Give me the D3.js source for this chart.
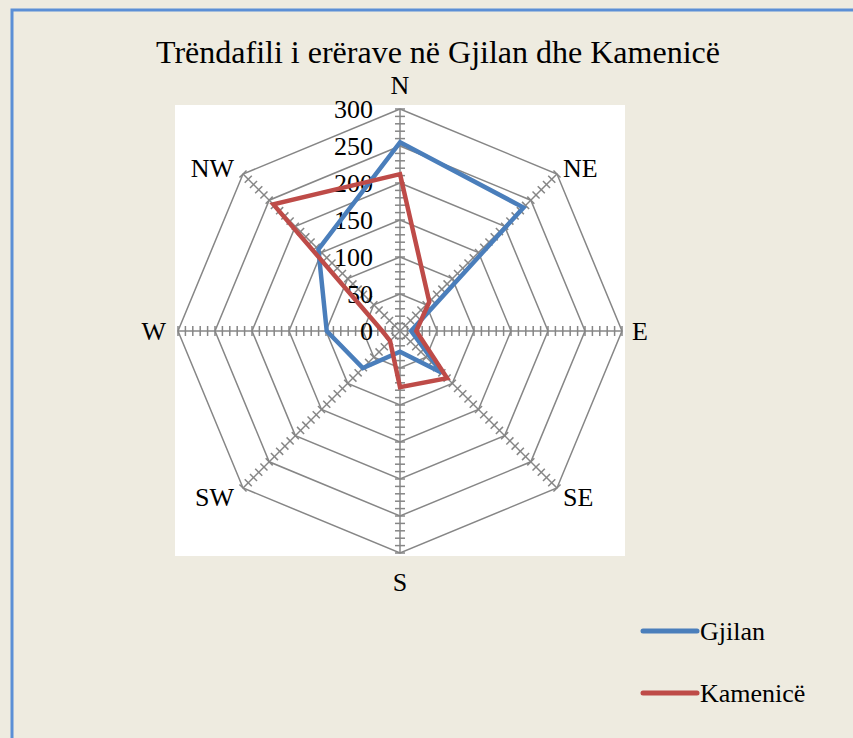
<!DOCTYPE html>
<html>
<head>
<meta charset="utf-8">
<script src="https://cdn.jsdelivr.net/npm/d3@7"></script>
<style>
body { margin: 0; background: #eeebe0; }
svg { display: block; font-family: "Liberation Serif", "Times New Roman", serif; }
</style>
</head>
<body>
<div id="chart"></div>
<script>
var width = 853, height = 738;

// data
var directions = ["N", "NE", "E", "SE", "S", "SW", "W", "NW"];
var gjilan = [255, 236, 15, 80, 28, 71, 99, 156];
var kamenice = [212, 56, 22, 90, 76, 19, 24, 242];
var gridValues = [50, 100, 150, 200, 250, 300];
var tickLabels = [0, 50, 100, 150, 200, 250, 300];
var seriesNames = ["Gjilan", "Kamenicë"];
var seriesColors = ["#4a7ebb", "#be4b48"];

var cx = 400, cy = 331;
var r = d3.scaleLinear().domain([0, 300]).range([0, 222]);
var angle = d3.scalePoint().domain(directions).range([0, 2 * Math.PI * 7 / 8]);

function pt(dir, v) {
    var a = angle(dir);
    return [cx + r(v) * Math.sin(a), cy - r(v) * Math.cos(a)];
}

var svg = d3.select("#chart").append("svg").attr("width", width).attr("height", height);

svg.append("rect").attr("width", width).attr("height", height).attr("fill", "#eeebe0");
// outer frame
svg.append("rect").attr("x", 12).attr("y", 10).attr("width", 900).attr("height", 800)
    .attr("fill", "none").attr("stroke", "#5b8fd6").attr("stroke-width", 3);

// plot area
svg.append("rect").attr("x", 175).attr("y", 105).attr("width", 450).attr("height", 451).attr("fill", "#fff");

svg.append("text").attr("x", 438).attr("y", 63).attr("text-anchor", "middle")
    .style("font-size", "32px").text("Trëndafili i erërave në Gjilan dhe Kamenicë");

var grid = svg.append("g");
var line = d3.line();

// octagons
gridValues.forEach(function(v) {
    var pts = directions.map(function(d) { return pt(d, v); });
    pts.push(pts[0]);
    grid.append("path").attr("d", line(pts)).attr("fill", "none")
        .attr("stroke", "#868686").attr("stroke-width", 1.5);
});

// spokes with minor ticks every 10
var minor = d3.range(10, 301, 10);
directions.forEach(function(d) {
    grid.append("path").attr("d", line([pt(d, 0), pt(d, 300)]))
        .attr("stroke", "#868686").attr("stroke-width", 1.5);
    var a = angle(d);
    var px = Math.cos(a) * 5, py = Math.sin(a) * 5;
    minor.forEach(function(v) {
        var p = pt(d, v);
        grid.append("path").attr("d", line([[p[0] - px, p[1] - py], [p[0] + px, p[1] + py]]))
            .attr("stroke", "#868686").attr("stroke-width", 1.5);
    });
});

// value labels along N axis
svg.append("g").selectAll("text").data(tickLabels).enter().append("text")
    .attr("x", 373).attr("y", function(v) { return cy - r(v) + 9; })
    .attr("text-anchor", "end").style("font-size", "26px")
    .text(function(v) { return v; });

// direction labels: [x, baseline, anchor]
var labelPos = {
    N: [400, 94, "middle"], NE: [563, 177, "start"], E: [632, 340, "start"], SE: [563, 506, "start"],
    S: [400, 591, "middle"], SW: [234, 506, "end"], W: [166, 340, "end"], NW: [234, 177, "end"]
};
svg.append("g").selectAll("text").data(directions).enter().append("text")
    .attr("x", function(d) { return labelPos[d][0]; })
    .attr("y", function(d) { return labelPos[d][1]; })
    .attr("text-anchor", function(d) { return labelPos[d][2]; })
    .style("font-size", "26px")
    .text(function(d) { return d; });

// series
[gjilan, kamenice].forEach(function(vals, i) {
    var pts = directions.map(function(d, j) { return pt(d, vals[j]); });
    svg.append("path").attr("d", d3.line().curve(d3.curveLinearClosed)(pts))
        .attr("fill", "none").attr("stroke", seriesColors[i]).attr("stroke-width", 4.5)
        .attr("stroke-linejoin", "miter");
});

// legend
var legend = svg.append("g").selectAll("g").data(seriesNames).enter().append("g")
    .attr("transform", function(d, i) { return "translate(643," + (631 + i * 62) + ")"; });
legend.append("line").attr("x1", 0).attr("x2", 54)
    .attr("stroke", function(d, i) { return seriesColors[i]; })
    .attr("stroke-width", 5).attr("stroke-linecap", "round");
legend.append("text").attr("x", 57).attr("y", 9).style("font-size", "26px")
    .text(function(d) { return d; });
</script>
</body>
</html>
